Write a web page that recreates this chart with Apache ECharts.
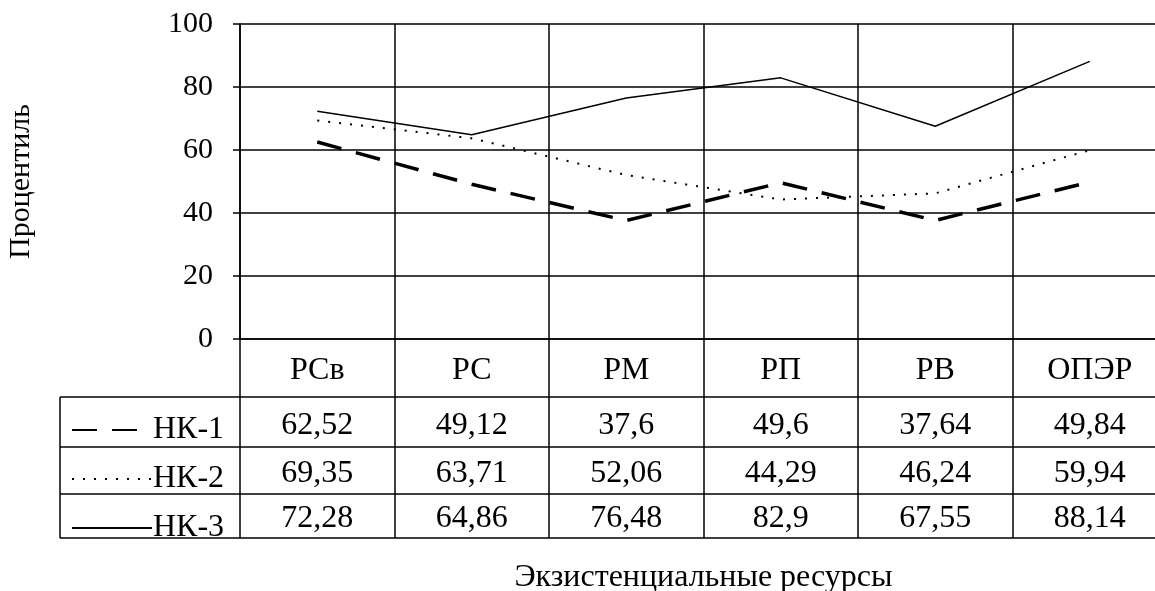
<!DOCTYPE html>
<html>
<head>
<meta charset="utf-8">
<script src="https://cdn.jsdelivr.net/npm/echarts@6/dist/echarts.min.js"></script>
<style>
html,body{margin:0;padding:0;background:#fff;}
#chart{width:1155px;height:591px;}
</style>
</head>
<body>
<div id="chart"></div>
<script>
// ---- data ----
var categories = ['РСв', 'РС', 'РМ', 'РП', 'РВ', 'ОПЭР'];
var seriesNames = ['НК-1', 'НК-2', 'НК-3'];
var nk1 = [62.52, 49.12, 37.6, 49.6, 37.64, 49.84];
var nk2 = [69.35, 63.71, 52.06, 44.29, 46.24, 59.94];
var nk3 = [72.28, 64.86, 76.48, 82.9, 67.55, 88.14];
var yTicks = [0, 20, 40, 60, 80, 100];
var xTitle = 'Экзистенциальные ресурсы';
var yTitle = 'Процентиль';

// ---- layout ----
var FONT = 'Liberation Serif';
var G_LEFT = 240, G_TOP = 24, G_W = 927, G_H = 315;
var G_BOTTOM = G_TOP + G_H;           // 339
var HEADER_H = 58;
var ROW_TOPS = [58, 108, 155];        // offsets below axis line
var ROW_H = [50, 47, 44];
var TABLE_END = 199;
var LEG_LEFT = 60;
var LW = 1.5;
var TFS = 32;

function fmt(v){ return String(v).replace('.', ','); }

var rowsData = [nk1, nk2, nk3];

var xAxes = [{
  type: 'category', data: categories, position: 'bottom', gridIndex: 0,
  boundaryGap: true,
  axisLine: {show: true, lineStyle: {color: '#000', width: LW}},
  axisTick: {show: true, length: HEADER_H, interval: 0, lineStyle: {color: '#000', width: LW}},
  axisLabel: {interval: 0, color: '#000', fontFamily: FONT, fontSize: TFS, margin: 16},
  splitLine: {show: true, interval: 0, lineStyle: {color: '#000', width: LW}}
}];
rowsData.forEach(function(arr, i){
  xAxes.push({
    type: 'category', data: arr.map(fmt), position: 'bottom', offset: ROW_TOPS[i],
    boundaryGap: true,
    axisLine: {show: true, lineStyle: {color: '#000', width: LW}},
    axisTick: {show: true, length: ROW_H[i], interval: 0, lineStyle: {color: '#000', width: LW}},
    axisLabel: {interval: 0, color: '#000', fontFamily: FONT, fontSize: TFS, margin: [13, 11, 9][i]},
    splitLine: {show: false}
  });
});
xAxes.push({
  type: 'category', data: categories, position: 'bottom', offset: TABLE_END,
  boundaryGap: true,
  axisLine: {show: true, lineStyle: {color: '#000', width: LW}},
  axisTick: {show: false}, axisLabel: {show: false}, splitLine: {show: false},
  name: xTitle, nameLocation: 'middle', nameGap: 24,
  nameTextStyle: {color: '#000', fontFamily: FONT, fontSize: 32}
});

var lineStyles = [
  {color: '#000', width: 3.5, type: [25, 15]},
  {color: '#000', width: 2, type: [2, 9]},
  {color: '#000', width: 1.5, type: 'solid'}
];

var series = rowsData.map(function(arr, i){
  return {
    name: seriesNames[i], type: 'line', data: arr, xAxisIndex: 0,
    symbol: 'none', showSymbol: false, silent: true,
    lineStyle: lineStyles[i], itemStyle: {color: '#000'}
  };
});

var rowYs = [G_BOTTOM + ROW_TOPS[0], G_BOTTOM + ROW_TOPS[1], G_BOTTOM + ROW_TOPS[2], G_BOTTOM + TABLE_END];
var graphics = rowYs.map(function(y){
  return {type: 'line', shape: {x1: LEG_LEFT, y1: y, x2: G_LEFT, y2: y}, style: {stroke: '#000', lineWidth: LW}};
});
graphics.push({type: 'line', shape: {x1: LEG_LEFT, y1: rowYs[0], x2: LEG_LEFT, y2: rowYs[3]}, style: {stroke: '#000', lineWidth: LW}});

var option = {
  backgroundColor: '#fff',
  animation: false,
  grid: {left: G_LEFT, top: G_TOP, width: G_W, height: G_H, containLabel: false, outerBoundsMode: 'none'},
  legend: {
    orient: 'vertical', left: 66, top: 409,
    itemWidth: 80, itemHeight: 14, itemGap: 17,
    itemStyle: {color: 'rgba(0,0,0,0)', borderWidth: 0, opacity: 0},
    lineStyle: {color: '#000'},
    textStyle: {color: '#000', fontFamily: FONT, fontSize: TFS, lineHeight: 30, padding: [0,0,0,-4]},
    data: seriesNames, selectedMode: false
  },
  xAxis: xAxes,
  yAxis: {
    type: 'value', min: 0, max: 100, interval: 20,
    axisLine: {show: true, lineStyle: {color: '#000', width: LW}},
    axisTick: {show: true, length: 7, lineStyle: {color: '#000', width: LW}},
    axisLabel: {color: '#000', fontFamily: FONT, fontSize: 30, margin: 27,
      formatter: function(v){ return yTicks.indexOf(v) >= 0 ? String(v) : ''; }},
    splitLine: {show: true, lineStyle: {color: '#000', width: LW}},
    name: yTitle, nameLocation: 'middle', nameGap: 204, nameRotate: 90,
    nameTextStyle: {color: '#000', fontFamily: FONT, fontSize: 30}
  },
  series: series,
  graphic: graphics
};

var chart = echarts.init(document.getElementById('chart'));
chart.setOption(option);
</script>
</body>
</html>
